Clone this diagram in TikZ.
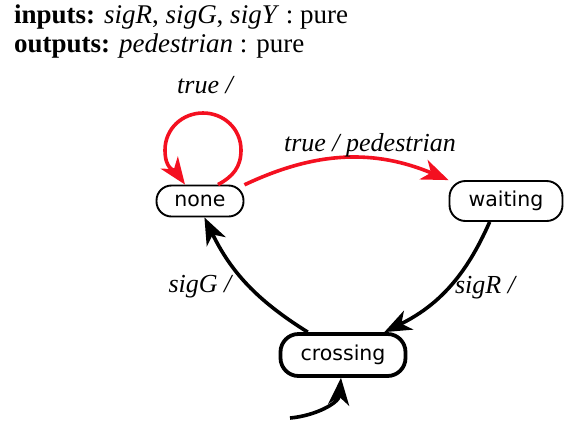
\documentclass[tikz,border=0pt]{standalone}
\usepackage{fontspec}
\setmainfont{Liberation Serif}
\newfontfamily\statefont{DejaVu Sans}
\usetikzlibrary{arrows.meta}
\definecolor{tred}{RGB}{244,16,32}
\tikzset{
  x=1pt,y=1pt,
  lbl/.style={font=\fontsize{26}{30}\selectfont\itshape, anchor=base, inner sep=0pt},
  hdr/.style={font=\fontsize{27}{32}\selectfont, anchor=base west, inner sep=0pt},
  statebox/.style={draw, line width=1.9pt, font=\statefont\fontsize{20.5}{24}\selectfont, inner sep=0pt},
  tip/.style={-{Stealth[length=27pt,width=21pt,inset=8pt]}},
  redge/.style={tip, draw=tred, line width=3.6pt},
  bedge/.style={tip, draw=black, line width=3.6pt},
}
\begin{document}
\begin{tikzpicture}
\path[use as bounding box] (0,0) rectangle (580,-440);
\node[hdr] (in) at (14,-23) {\textbf{inputs:} \textit{sigR}, \textit{sigG}, \textit{sigY} : pure};
\node[hdr] (out) at (14,-52) {\textbf{outputs:} \textit{pedestrian} : pure};

\node[statebox, minimum width=87pt, minimum height=31pt, rounded corners=15pt] (none) at (200,-201) {none};
\node[statebox, minimum width=113pt, minimum height=40pt, rounded corners=16pt] (waiting) at (506,-201) {waiting};
\node[statebox, line width=3.8pt, minimum width=125pt, minimum height=42pt, rounded corners=18pt] (crossing) at (343,-355) {crossing};

\draw[redge] ([xshift=18pt]none.north)
   .. controls +(15,8) and +(0,-17) .. ([shift={(41,51)}]none.center)
   .. controls +(0,21) and +(21,0) .. ([shift={(3,88)}]none.center)
   .. controls +(-21,0) and +(0,21) .. ([shift={(-35,51)}]none.center)
   .. controls +(0,-20) and +(-10,14) .. ([xshift=-15pt]none.north);
\draw[redge] (none.20) to[bend left=24] (waiting.160);
\draw[bedge] (waiting.232) to[bend left=20] (crossing.29);
\draw[bedge] (crossing.147) to[bend left=16] (none.-75);
\coordinate (init) at (290,-418);
\draw[bedge] (init) to[out=5,in=-95] ([xshift=-2pt]crossing.south);

\node[lbl] (l1) at (205,-93) {true /};
\node[lbl] (l2) at (370,-151) {true / pedestrian};
\node[lbl] (l3) at (485,-293) {sigR /};
\node[lbl] (l4) at (200,-292) {sigG /};
\end{tikzpicture}
\end{document}
